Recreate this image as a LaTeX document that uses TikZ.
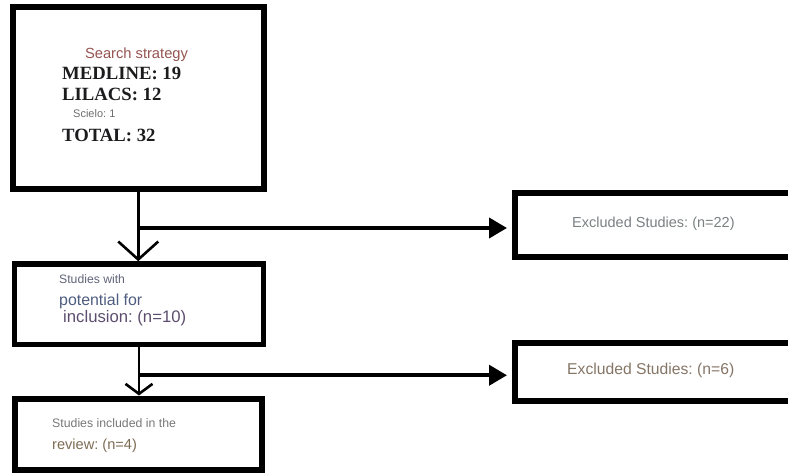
\documentclass[tikz,border=0pt]{standalone}
\usepackage{fontspec}
\setmainfont{Liberation Serif}
\newfontfamily\arialfont{Liberation Sans}
\usetikzlibrary{arrows.meta}
\frenchspacing
\tikzset {>=Stealth,
  box/.style={draw,line width=6pt,inner sep=0pt},
  txt/.style={anchor=base west,inner sep=0pt},
  flow/.style={line width=2.6pt},
  side/.style={line width=4pt,shorten >=4.5pt,-{Triangle[length=18pt,width=20pt]}}}
\newcommand{\sans}[1]{\arialfont\fontsize{#1}{#1}\selectfont}
\newcommand{\serifbig}{\bfseries\fontsize{18.7}{19}\selectfont}
\definecolor{titlered}{RGB}{148,84,80}
\definecolor{dbtext}{RGB}{28,28,30}
\definecolor{scielogray}{RGB}{110,110,110}
\definecolor{slate}{RGB}{95,100,120}
\definecolor{bluegray}{RGB}{78,92,128}
\definecolor{plum}{RGB}{92,77,110}
\definecolor{midgray}{RGB}{119,119,119}
\definecolor{umber}{RGB}{125,107,85}
\definecolor{exgray}{RGB}{123,128,130}
\definecolor{exbrown}{RGB}{133,117,102}
\begin{document}
\begin{tikzpicture}[x=1pt,y=-1pt]
\useasboundingbox (0,0) rectangle (788,474);
\node[box,minimum width=250.5pt,minimum height=182pt] (search) at (138.25,98) {};
\node[box,line width=5.5pt,minimum width=249pt,minimum height=80.5pt] (potential) at (139,304.25) {};
\node[box,minimum width=247.5pt,minimum height=71.5pt] (included) at (138.25,434.25) {};
\node[box,minimum width=290pt,minimum height=64.5pt] (excludedA) at (659.5,224.75) {};
\node[box,minimum width=290pt,minimum height=58pt] (excludedB) at (659.5,372) {};
% texts of the search box
\node[anchor=base,inner sep=0pt,text=titlered,font=\sans{14.7}] (strategy) at (136.5,58) {Search strategy};
\node[txt,text=dbtext,font=\serifbig] (medline) at (62,79) {MEDLINE: 19};
\node[txt,text=dbtext,font=\serifbig] (lilacs) at (62,100) {LILACS: 12};
\node[txt,text=scielogray,font=\sans{11}] (scielo) at (73,117) {Scielo: 1};
\node[txt,text=dbtext,font=\serifbig] (total) at (62,141) {TOTAL: 32};
\node[txt,text=slate,font=\sans{12.2}] (with) at (59,283) {Studies with};
\node[txt,text=bluegray,font=\sans{15.9}] (potfor) at (59,305) {potential for};
\node[txt,text=plum,font=\sans{16.7}] (inclusion) at (63,322) {inclusion: (n=10)};
\node[txt,text=midgray,font=\sans{12.3}] (inthe) at (52,427) {Studies included in the};
\node[txt,text=umber,font=\sans{14.6}] (review) at (52,449) {review: (n=4)};
\node[txt,text=exgray,font=\sans{14.5}] (exA) at (572,227) {Excluded Studies: (n=22)};
\node[txt,text=exbrown,font=\sans{15.7}] (exB) at (567,374) {Excluded Studies: (n=6)};
% connectors
\draw[flow,-{Straight Barb[length=18pt,width=40pt]}] (search.south) -- (search.south |- potential.north);
\path (search.south) ++(0,36) coordinate (forkA);
\draw[side] (forkA) -- (forkA -| excludedA.west);
\draw[flow,-{Straight Barb[length=10pt,width=27pt]}] (potential.south) -- (potential.south |- included.north);
\path (potential.south) ++(0,28) coordinate (forkB);
\draw[side] (forkB) -- (forkB -| excludedB.west);
\end{tikzpicture}
\end{document}
